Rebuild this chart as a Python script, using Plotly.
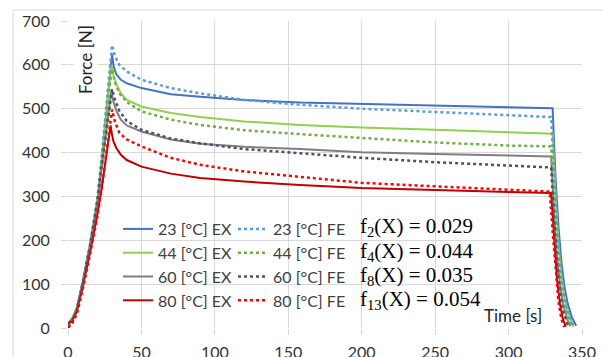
import plotly.graph_objects as go

# ---------------- data ----------------
t_23_ex = [0, 3, 6, 10, 15, 20, 22, 25, 28, 30, 31, 33, 36, 40, 50, 70, 90, 120, 158, 200, 250, 300, 330, 332, 334, 336, 338, 340, 343, 346]
f_23_ex = [10, 22, 45, 105, 190, 290, 350, 460, 565, 625, 597, 578, 566, 558, 547, 533, 527, 520, 514, 511, 506, 503, 501, 340, 230, 150, 95, 60, 25, 5]

t_23_fe = [0, 3, 6, 10, 15, 20, 22, 25, 28, 30, 32, 35, 40, 50, 70, 90, 120, 158, 200, 250, 300, 329, 331, 333, 335, 337, 340, 343, 345]
f_23_fe = [3, 15, 40, 100, 190, 295, 360, 470, 580, 645, 620, 600, 585, 566, 547, 535, 520, 509, 500, 492, 485, 481, 350, 225, 140, 85, 40, 12, 2]

t_44_ex = [0, 3, 6, 10, 15, 20, 22, 25, 28, 29.5, 31, 33, 36, 40, 50, 70, 90, 120, 158, 200, 250, 300, 330, 332, 334, 336, 338, 340, 343, 344]
f_44_ex = [10, 22, 45, 105, 188, 288, 345, 450, 545, 600, 575, 555, 535, 520, 505, 490, 481, 471, 463, 457, 452, 446, 443, 300, 190, 120, 70, 40, 10, 3]

t_44_fe = [0, 3, 6, 10, 15, 20, 22, 25, 28, 30, 32, 35, 40, 50, 70, 90, 120, 158, 200, 250, 300, 329, 331, 333, 335, 337, 340, 343]
f_44_fe = [3, 15, 40, 100, 188, 290, 350, 450, 545, 590, 560, 535, 515, 494, 475, 463, 451, 442, 433, 423, 416, 414, 290, 180, 110, 60, 25, 4]

t_60_ex = [0, 3, 6, 10, 15, 20, 22, 25, 28, 29.5, 31, 33, 36, 40, 50, 70, 90, 120, 158, 200, 250, 300, 329, 331, 333, 335, 337, 340, 342]
f_60_ex = [10, 22, 45, 103, 186, 285, 340, 420, 500, 540, 515, 495, 475, 462, 448, 430, 420, 413, 408, 401, 397, 393, 391, 260, 160, 100, 55, 20, 4]

t_60_fe = [0, 3, 6, 10, 15, 20, 22, 25, 28, 30, 32, 35, 40, 50, 70, 90, 120, 158, 200, 250, 300, 329, 331, 333, 335, 337, 340, 341]
f_60_fe = [3, 15, 40, 100, 186, 287, 345, 425, 505, 545, 520, 495, 472, 452, 432, 421, 408, 399, 388, 378, 371, 366, 250, 150, 85, 40, 10, 2]

t_80_ex = [0, 3, 6, 10, 15, 20, 23, 26, 29, 30, 31, 33, 36, 40, 50, 70, 90, 120, 158, 200, 250, 300, 329, 331, 333, 335, 337, 339]
f_80_ex = [8, 18, 38, 92, 172, 258, 320, 390, 462, 440, 425, 410, 395, 383, 368, 352, 342, 334, 326, 319, 314, 310, 308, 200, 110, 55, 20, 3]

t_80_fe = [0, 3, 6, 10, 15, 20, 23, 26, 29, 30, 32, 35, 40, 50, 70, 90, 120, 158, 200, 250, 300, 328, 330, 332, 334, 336, 338]
f_80_fe = [0, 12, 32, 88, 168, 255, 320, 400, 475, 498, 470, 445, 430, 414, 388, 372, 357, 345, 331, 323, 315, 311, 220, 130, 60, 20, 2]

ex_names = ["23 [°C] EX", "44 [°C] EX", "60 [°C] EX", "80 [°C] EX"]
fe_names = ["23 [°C] FE", "44 [°C] FE", "60 [°C] FE", "80 [°C] FE"]
fit_labels = ["f<sub>2</sub>(X) = 0.029", "f<sub>4</sub>(X) = 0.044",
              "f<sub>8</sub>(X) = 0.035", "f<sub>13</sub>(X) = 0.054"]

x_ticks = [0, 50, 100, 150, 200, 250, 300, 350]
y_ticks = [0, 100, 200, 300, 400, 500, 600, 700]

ex_colors = ["#4472C4", "#92D050", "#7F7F7F", "#C00000"]
fe_colors = ["#5B9BD5", "#70AD47", "#44546A", "#FF0000"]

ex_series = [(t_23_ex, f_23_ex), (t_44_ex, f_44_ex), (t_60_ex, f_60_ex), (t_80_ex, f_80_ex)]
fe_series = [(t_23_fe, f_23_fe), (t_44_fe, f_44_fe), (t_60_fe, f_60_fe), (t_80_fe, f_80_fe)]

# ---------------- figure ----------------
W, H = 603, 357
ML, MR, MT, MB = 68, 21, 21, 29
PW, PH = W - ML - MR, H - MT - MB


def px_x(px):
    return (px - ML) / PW


def px_y(py):
    return (H - MB - py) / PH


fig = go.Figure()

legend_font = dict(family="Lato", size=16, color="#404040")

for (t, f), name, c in zip(ex_series, ex_names, ex_colors):
    fig.add_trace(go.Scatter(x=t, y=f, mode="lines", name=name,
                             line=dict(color=c, width=2), legend="legend"))
for (t, f), name, c in zip(fe_series, fe_names, fe_colors):
    fig.add_trace(go.Scatter(x=t, y=f, mode="lines", name=name,
                             line=dict(color=c, width=2.5, dash="dot"), legend="legend2"))

shapes = [
    # outer chart frame
    dict(type="rect", xref="paper", yref="paper",
         x0=px_x(13), x1=px_x(640), y0=px_y(400), y1=px_y(10),
         line=dict(color="#d9d9d9", width=1), fillcolor="rgba(0,0,0,0)", layer="below"),
    # white legend box
    dict(type="rect", xref="paper", yref="paper",
         x0=px_x(113), x1=px_x(476), y0=px_y(312), y1=px_y(207),
         line=dict(width=0), fillcolor="white", layer="between"),
]

annotations = []
row_y = [226.5, 251.5, 276, 299.5]
for lab, yy in zip(fit_labels, row_y):
    annotations.append(dict(xref="paper", yref="paper", x=px_x(358), y=px_y(yy),
                            xanchor="left", yanchor="middle", showarrow=False, text=lab,
                            font=dict(family="Liberation Serif", size=21, color="#000000")))

annotations.append(dict(xref="paper", yref="paper", x=px_x(86), y=px_y(60),
                        xanchor="center", yanchor="middle", showarrow=False, text="Force [N]",
                        textangle=-90, bgcolor="white",
                        font=dict(family="Lato", size=17, color="#262626")))
annotations.append(dict(xref="paper", yref="paper", x=px_x(513), y=px_y(315),
                        xanchor="center", yanchor="middle", showarrow=False, text="Time [s]",
                        bgcolor="white",
                        font=dict(family="Lato", size=17, color="#262626")))

fig.update_layout(
    width=W, height=H,
    margin=dict(l=ML, r=MR, t=MT, b=MB, autoexpand=False),
    paper_bgcolor="white", plot_bgcolor="white",
    font=dict(family="Lato", size=16, color="#404040"),
    xaxis=dict(range=[0, 350], tickvals=x_ticks, showgrid=True, gridcolor="#d9d9d9",
               gridwidth=1, zeroline=False, showline=False, ticks="outside", ticklen=6,
               tickcolor="#d9d9d9", tickfont=dict(family="Lato", size=16, color="#333333"),
               ticklabelstandoff=4, fixedrange=True, automargin=False),
    yaxis=dict(range=[0, 700], tickvals=y_ticks, showgrid=True, gridcolor="#d9d9d9",
               gridwidth=1, zeroline=False, showline=False, ticks="outside", ticklen=6,
               tickcolor="#d9d9d9", tickfont=dict(family="Lato", size=16, color="#333333"),
               ticklabelstandoff=8, fixedrange=True, automargin=False),
    shapes=shapes,
    annotations=annotations,
    legend=dict(x=px_x(118), y=px_y(212), xanchor="left", yanchor="top",
                bgcolor="rgba(0,0,0,0)", font=legend_font, tracegroupgap=0,
                itemwidth=30),
    legend2=dict(x=px_x(233), y=px_y(212), xanchor="left", yanchor="top",
                 bgcolor="rgba(0,0,0,0)", font=legend_font, tracegroupgap=0,
                 itemwidth=30),
    showlegend=True,
)

fig.write_html("out.html")
